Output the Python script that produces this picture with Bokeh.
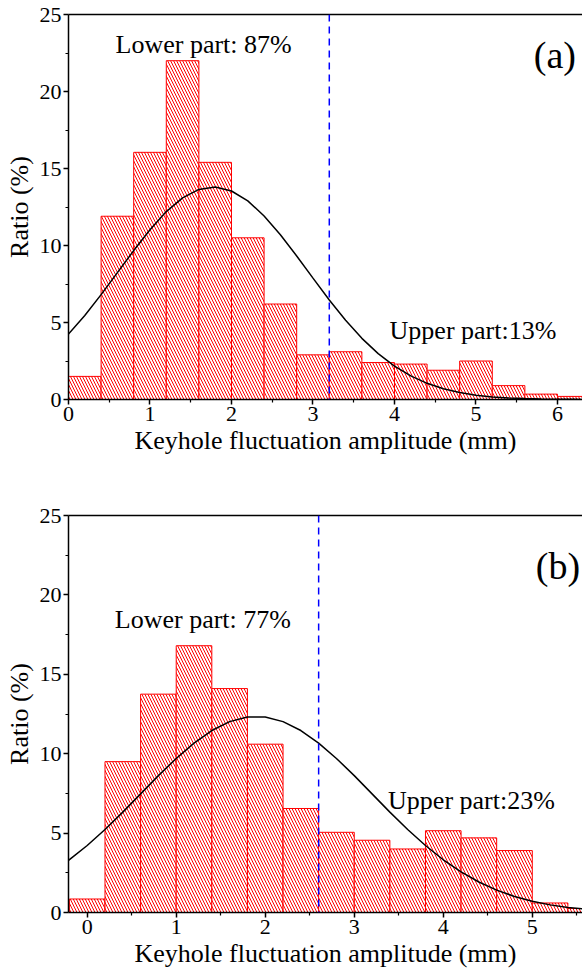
from bokeh.plotting import figure
from bokeh.models import ColumnDataSource, Span, Label, FixedTicker, LinearAxis, Range1d
from bokeh.layouts import column
from bokeh.embed import file_html
from bokeh.resources import INLINE

# ---------------- data ----------------
BIN_WIDTH = 0.4

# panel (a)
a_bin_left = [0.0, 0.4, 0.8, 1.2, 1.6, 2.0, 2.4, 2.8, 3.2, 3.6, 4.0, 4.4, 4.8, 5.2, 5.6, 6.0]
a_ratio = [1.5, 11.9, 16.05, 22.0, 15.4, 10.5, 6.2, 2.9, 3.1, 2.4, 2.3, 1.9, 2.5, 0.9, 0.35, 0.2]
a_fit_x = [0.0, 0.2, 0.4, 0.6, 0.8, 1.0, 1.2, 1.4, 1.6, 1.8, 2.0, 2.2, 2.4, 2.6, 2.8, 3.0,
           3.2, 3.4, 3.6, 3.8, 4.0, 4.2, 4.4, 4.6, 4.8, 5.0, 5.2, 5.4, 5.6, 5.8, 6.0, 6.2, 6.4]
a_fit_y = [4.25, 5.46, 6.81, 8.24, 9.67, 11.02, 12.20, 13.09, 13.64, 13.80, 13.54, 12.90,
           11.92, 10.70, 9.32, 7.88, 6.46, 5.14, 3.97, 2.98, 2.17, 1.53, 1.05, 0.70, 0.45,
           0.28, 0.17, 0.10, 0.06, 0.03, 0.02, 0.01, 0.00]
a_split = 3.2
a_x_ticks = [0, 1, 2, 3, 4, 5, 6]

# panel (b)
b_bin_left = [-0.2, 0.2, 0.6, 1.0, 1.4, 1.8, 2.2, 2.6, 3.0, 3.4, 3.8, 4.2, 4.6, 5.0, 5.4]
b_ratio = [0.85, 9.5, 13.75, 16.8, 14.1, 10.6, 6.55, 5.05, 4.55, 4.0, 5.15, 4.7, 3.9, 0.6, 0.25]
b_fit_x = [-0.22, 0.0, 0.2, 0.4, 0.6, 0.8, 1.0, 1.2, 1.4, 1.6, 1.8, 2.0, 2.2, 2.4, 2.6, 2.8,
           3.0, 3.2, 3.4, 3.6, 3.8, 4.0, 4.2, 4.4, 4.6, 4.8, 5.0, 5.2, 5.4, 5.6]
b_fit_y = [3.24, 4.22, 5.23, 6.32, 7.47, 8.62, 9.70, 10.67, 11.46, 12.02, 12.31, 12.31, 12.02,
           11.46, 10.67, 9.70, 8.62, 7.47, 6.32, 5.23, 4.22, 3.32, 2.56, 1.92, 1.41, 1.01,
           0.71, 0.48, 0.32, 0.21]
b_split = 2.6
b_x_ticks = [0, 1, 2, 3, 4, 5]

y_ticks = [0, 5, 10, 15, 20, 25]

FONT = "Liberation Serif"
X_LABEL = "Keyhole fluctuation amplitude (mm)"
Y_LABEL = "Ratio (%)"


def panel(bin_left, ratio, fit_x, fit_y, split, x_ticks, x_range, height, borders,
          texts):
    top_b, left_b, bottom_b = borders
    p = figure(width=582, height=height, x_range=Range1d(*x_range), y_range=Range1d(0, 25),
               output_backend="svg", toolbar_location=None,
               min_border_left=left_b, min_border_right=0,
               min_border_top=top_b, min_border_bottom=bottom_b)
    p.outline_line_color = None
    p.xgrid.visible = False
    p.ygrid.visible = False
    p.background_fill_color = "white"
    p.border_fill_color = "white"

    src = ColumnDataSource(dict(
        left=bin_left,
        right=[v + BIN_WIDTH for v in bin_left],
        top=ratio,
        bottom=[0] * len(ratio),
    ))
    p.quad(left="left", right="right", top="top", bottom="bottom", source=src,
           fill_color="white", line_color="#ff0000", line_width=1,
           hatch_pattern="\\", hatch_color="#ff0000", hatch_scale=6, hatch_weight=1)

    p.line(fit_x, fit_y, line_color="black", line_width=1.5)

    p.add_layout(Span(location=split, dimension="height", line_color="#0000ff",
                      line_dash="7 5", line_width=1.5))

    minor_x = [t + 0.5 for t in range(-1, 7)]
    for ax, ticks, minor in ((p.xaxis[0], x_ticks, minor_x),
                             (p.yaxis[0], y_ticks, [2.5, 7.5, 12.5, 17.5, 22.5])):
        ax.ticker = FixedTicker(ticks=ticks, minor_ticks=minor)
        ax.axis_line_width = 1.5
        ax.major_tick_line_width = 1.5
        ax.minor_tick_line_width = 1.2
        ax.major_tick_in = 0
        ax.major_tick_out = 5
        ax.minor_tick_in = 0
        ax.minor_tick_out = 3
        ax.major_label_text_font = FONT
        ax.major_label_text_font_size = "22px"
        ax.major_label_text_color = "black"
        ax.axis_label_text_font = FONT
        ax.axis_label_text_font_size = "26px"
        ax.axis_label_text_font_style = "normal"
        ax.axis_label_text_color = "black"
    p.xaxis[0].axis_label = X_LABEL
    p.yaxis[0].axis_label = Y_LABEL
    p.xaxis[0].major_label_standoff = 2
    p.xaxis[0].axis_label_standoff = 2
    p.yaxis[0].major_label_standoff = 2
    p.yaxis[0].axis_label_standoff = 3

    top_ax = LinearAxis(ticker=FixedTicker(ticks=[]), major_tick_out=0, minor_tick_out=0,
                        major_label_text_font_size="0px", axis_line_width=1.5,
                        major_label_standoff=0)
    p.add_layout(top_ax, "above")

    for (tx, ty, txt, size) in texts:
        p.add_layout(Label(x=tx, y=ty, text=txt, text_font=FONT, text_font_size=size,
                           text_color="black", text_baseline="alphabetic",
                           text_align="left"))
    return p


p1 = panel(a_bin_left, a_ratio, a_fit_x, a_fit_y, a_split, a_x_ticks,
           (0, 6.307), 487, (14, 68, 88),
           [(0.577, 23.07, "Lower part: 87%", "26px"),
            (3.94, 4.51, "Upper part:13%", "26px"),
            (5.71, 22.35, "(a)", "38px")])

p2 = panel(b_bin_left, b_ratio, b_fit_x, b_fit_y, b_split, b_x_ticks,
           (-0.21, 5.564), 487, (28, 67, 62),
           [(0.31, 18.42, "Lower part: 77%", "26px"),
            (3.38, 7.04, "Upper part:23%", "26px"),
            (5.04, 21.85, "(b)", "38px")])

layout = column(p1, p2, spacing=0)

with open("out.html", "w") as f:
    f.write(file_html(layout, INLINE))
